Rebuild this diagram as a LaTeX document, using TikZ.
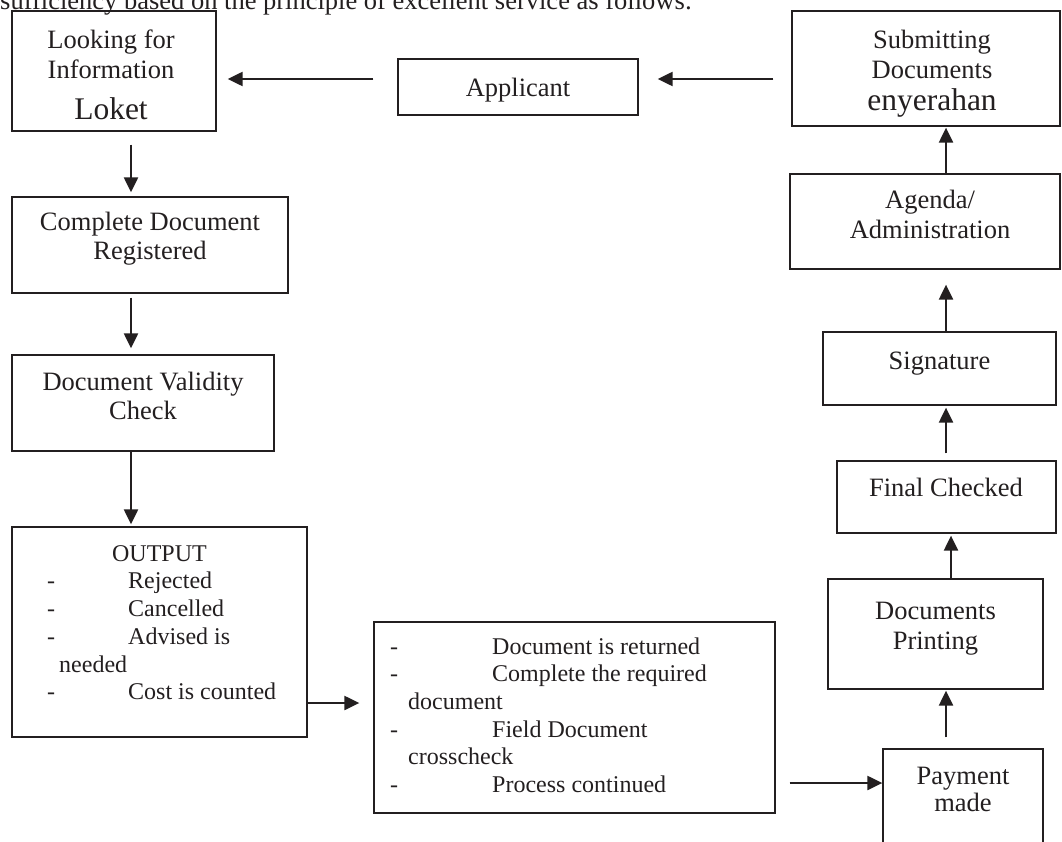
\documentclass[tikz,border=0pt]{standalone}
\usepackage{fontspec}
\setmainfont{Liberation Serif}
\usetikzlibrary{arrows.meta}
\definecolor{ink}{RGB}{35,31,32}
\begin{document}
\begin{tikzpicture}[x=1pt,y=-1pt,
  box/.style={draw=ink, line width=1.3pt, rectangle, inner sep=0pt},
  arr/.style={draw=ink, line width=2.2pt, -{Triangle[length=15pt,width=14pt]}},
  txt/.style={inner sep=0pt, text=ink, anchor=base, font=\fontsize{26.5}{30}\selectfont},
  big/.style={inner sep=0pt, text=ink, anchor=base, font=\fontsize{31.5}{36}\selectfont},
  sml/.style={inner sep=0pt, text=ink, anchor=base west, font=\fontsize{24}{28}\selectfont}]
\useasboundingbox (0,0) rectangle (1062,842);
\clip (0,0) rectangle (1062,842);
\fill[white] (0,0) rectangle (1062,842);

% top running text (cut off by the picture edge, as in the reference)
\node[txt, anchor=base west] (intro) at (0,10) {sufficiency based on the principle of excellent service as follows:};

% boxes
\node[box, minimum width=204pt, minimum height=120pt] (b1) at (114,71) {};
\node[box, minimum width=240pt, minimum height=56pt] (app) at (518,87) {};
\node[box, minimum width=268pt, minimum height=115pt] (sub) at (926,68.5) {};
\node[box, minimum width=270pt, minimum height=95pt] (ag) at (925,221.5) {};
\node[box, minimum width=233pt, minimum height=73pt] (sig) at (939.5,368.5) {};
\node[box, minimum width=219pt, minimum height=72pt] (fin) at (946.5,497) {};
\node[box, minimum width=215pt, minimum height=110pt] (prt) at (935.5,634) {};
\node[box, minimum width=160pt, minimum height=111pt] (pay) at (963,804.5) {};
\node[box, minimum width=401pt, minimum height=191pt] (mid) at (574.5,717.5) {};
\node[box, minimum width=295pt, minimum height=210pt] (out) at (159.5,632) {};
\node[box, minimum width=276pt, minimum height=96pt] (b2) at (150,245) {};
\node[box, minimum width=262pt, minimum height=96pt] (b3) at (143,403) {};

% texts
\node[txt] (t1a) at (111,49) {Looking for};
\node[txt] (t1b) at (111,79) {Information};
\node[big] (t1c) at (111,120) {Loket};
\node[txt] (tapp) at (518,96.5) {Applicant};
\node[txt] (tsa) at (932,49) {Submitting};
\node[txt] (tsb) at (932,79) {Documents};
\node[big] (tsc) at (932,111) {enyerahan};
\node[txt] (taga) at (930,209) {Agenda/};
\node[txt] (tagb) at (930,239) {Administration};
\node[txt] (tsig) at (939.5,369) {Signature};
\node[txt] (tfin) at (946,496.5) {Final Checked};
\node[txt] (tpra) at (935.5,619) {Documents};
\node[txt] (tprb) at (935.5,649) {Printing};
\node[txt] (tpaa) at (963,784) {Payment};
\node[txt] (tpab) at (963,811) {made};
\node[txt] (t2a) at (150,231) {Complete Document};
\node[txt] (t2b) at (150,260) {Registered};
\node[txt] (t3a) at (143,390) {Document Validity};
\node[txt] (t3b) at (143,419) {Check};

% OUTPUT box text
\node[sml, anchor=base] (toa) at (159.5,561) {OUTPUT};
\node[sml] (tod1) at (47,588) {-};
\node[sml] (tob) at (128,588) {Rejected};
\node[sml] (tod2) at (47,616) {-};
\node[sml] (toc) at (128,616) {Cancelled};
\node[sml] (tod3) at (47,644) {-};
\node[sml] (tod) at (128,644) {Advised is};
\node[sml] (toe) at (59,672) {needed};
\node[sml] (tod4) at (47,699) {-};
\node[sml] (tof) at (128,699) {Cost is counted};

% middle box text
\node[sml] (tmd1) at (390,654) {-};
\node[sml] (tma) at (492,654) {Document is returned};
\node[sml] (tmd2) at (390,681.7) {-};
\node[sml] (tmb) at (492,681.7) {Complete the required};
\node[sml] (tmc) at (408,709.4) {document};
\node[sml] (tmd3) at (390,737) {-};
\node[sml] (tmd) at (492,737) {Field Document};
\node[sml] (tme) at (408,764.8) {crosscheck};
\node[sml] (tmd4) at (390,792.5) {-};
\node[sml] (tmf) at (492,792.5) {Process continued};

% connectors
\draw[arr, shorten <=24pt, shorten >=11pt] (app.west |- 0,79) -- (b1.east |- 0,79);
\draw[arr, shorten <=18pt, shorten >=19pt] (sub.west |- 0,79) -- (app.east |- 0,79);
\draw[arr, shorten <=13pt, shorten >=4pt] (b1.south -| 131,0) -- (b2.north -| 131,0);
\draw[arr, shorten <=4pt, shorten >=6pt] (b2.south -| 131,0) -- (b3.north -| 131,0);
\draw[arr, shorten >=2pt] (b3.south -| 131,0) -- (out.north -| 131,0);
\draw[arr, shorten >=14pt] (out.east |- 0,703) -- (mid.west |- 0,703);
\draw[arr, shorten <=14pt] (mid.east |- 0,783) -- (pay.west |- 0,783);
\draw[arr, shorten <=11pt, shorten >=1pt] (pay.north -| 946,0) -- (prt.south -| 946,0);
\draw[arr, shorten >=2pt] (prt.north -| 951,0) -- (fin.south -| 951,0);
\draw[arr, shorten <=7pt, shorten >=2pt] (fin.north -| 946,0) -- (sig.south -| 946,0);
\draw[arr, shorten >=15pt] (sig.north -| 946,0) -- (ag.south -| 946,0);
\draw[arr, shorten >=1pt] (ag.north -| 946,0) -- (sub.south -| 946,0);
\end{tikzpicture}
\end{document}
